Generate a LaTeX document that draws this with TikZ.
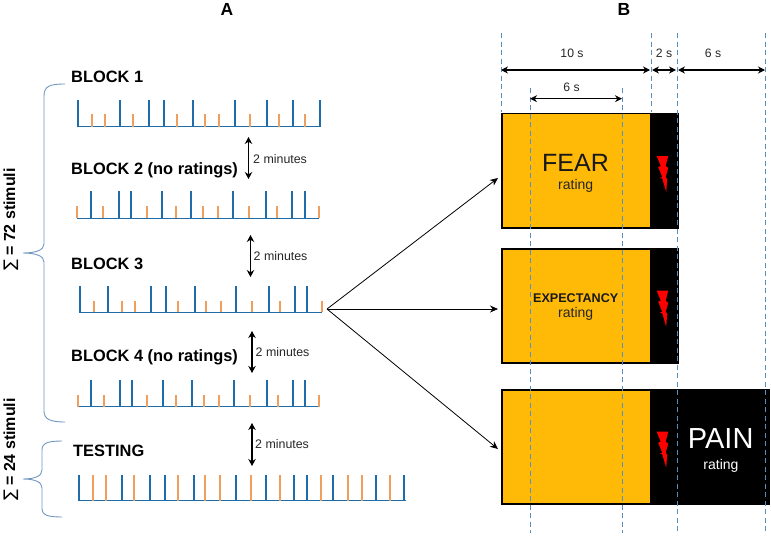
\documentclass[tikz,border=0pt]{standalone}
\usepackage{fontspec}
\setmainfont{Liberation Sans}
\newfontfamily\sumfont[BoldFont={DejaVu Sans}]{DejaVu Sans}
\usetikzlibrary{arrows.meta}

\definecolor{tickblue}{HTML}{1F6CAB}
\definecolor{tickorange}{HTML}{EE9F5E}
\definecolor{bracecol}{HTML}{6F97C0}
\definecolor{boxyellow}{HTML}{FFBA08}
\definecolor{guidecol}{HTML}{5B8DBE}

\tikzset{
  blocklabel/.style={anchor=west, inner sep=0pt, font=\bfseries\fontsize{16.4}{16.4}\selectfont},
  gaplabel/.style={anchor=west, inner sep=0pt, font=\fontsize{12.4}{12.4}\selectfont, text=black!85},
  timelabel/.style={inner sep=0pt, font=\fontsize{12.2}{12.2}\selectfont, text=black!85},
  panellabel/.style={inner sep=0pt, font=\bfseries\fontsize{17.5}{17.5}\selectfont},
  sumlabel/.style={inner sep=0pt, rotate=90, anchor=base, font=\bfseries\fontsize{16}{16}\selectfont},
  ratingbox/.style={draw=black, line width=1.5pt, fill=boxyellow, inner sep=0pt},
  shockbox/.style={draw=black, line width=1.5pt, fill=black, inner sep=0pt},
  rating/.style={inner sep=0pt, font=\fontsize{14}{14}\selectfont, text=black!85},
  bigword/.style={inner sep=0pt, font=\fontsize{25}{25}\selectfont, text=black!90},
  spanarrow/.style={{Stealth[length=7pt,width=7pt]}-{Stealth[length=7pt,width=7pt]}, line width=1.1pt},
  gaparrow/.style={{Stealth[length=7pt,width=7.5pt]}-{Stealth[length=7pt,width=7.5pt]}, line width=1.1pt},
  fanarrow/.style={-{Stealth[length=8pt,width=7pt]}, line width=.8pt},
  guide/.style={guidecol, dashed, dash pattern=on 5pt off 3.5pt, line width=.8pt},
  bracket/.style={bracecol, line width=.9pt},
  pics/bolt/.style={code={
    \fill[red] (0,0) -- (11.5,0) -- (9,10) -- (11.5,12) -- (9,21) -- (10.5,23) -- (9.5,36) -- (5.5,22.5)
      -- (3,22) -- (5.5,21) -- (1.5,11) -- (4,10) -- cycle;
  }},
}

% baseline, tall top, short top, blue positions, orange positions
\newcommand{\blockticks}[5]{
  \foreach \px in {#4} \draw[tickblue, line width=2pt] (\px,#1) -- (\px,#2);
  \foreach \px in {#5} \draw[tickorange, line width=2pt] (\px,#1) -- (\px,#3);
}
\newcommand{\sumsign}{{\sumfont ∑}}

\begin{document}
\begin{tikzpicture}[x=1pt, y=-1pt]
  \useasboundingbox (0,0) rectangle (771,536);

  % Headings
  \node[panellabel] (headA) at (227,9) {A};
  \node[panellabel] (headB) at (624,9) {B};

  % Left side: block labels
  \node[blocklabel] (block1) at (71,77)    {BLOCK 1};
  \node[blocklabel] (block2) at (71,170)   {BLOCK 2 (no ratings)};
  \node[blocklabel] (block3) at (71,263.5) {BLOCK 3};
  \node[blocklabel] (block4) at (71,357)   {BLOCK 4 (no ratings)};
  \node[blocklabel] (testing) at (73,451)  {TESTING};

  % Stimulus ticks
  \draw[tickblue, line width=1pt] (78,126.7) -- (321,126.7);
  \blockticks{126.7}{100}{114}
    {78.3,120.3,148.7,163.7,192.7,234.7,267.3,293,319.7}
    {92.3,105.3,133.3,177,204.7,219.3,250,278.7,305}
  \draw[tickblue, line width=1pt] (77,218) -- (319,218);
  \blockticks{218}{191.3}{206}
    {90.7,118.7,131.3,162.3,191.3,233,266,292,304.7}
    {77.3,103.3,146.7,175.7,203.3,218,249,277.3,318.7}
  \draw[tickblue, line width=1pt] (79,312) -- (322,312);
  \blockticks{312}{286}{300.7}
    {80,107.7,150.7,165.7,194.7,236.3,269,294.7,307.3}
    {94,122,135,178.3,206,220.7,251.7,280,321.7}
  \draw[tickblue, line width=1pt] (77,406.7) -- (320,406.7);
  \blockticks{406.7}{380}{395}
    {91.3,120,132.3,163,191.7,234.3,266.7,292.7,305}
    {78,104,147.3,176,204,218.7,249.7,278,319.3}
  \draw[tickblue, line width=1pt] (78,500.7) -- (406,500.7);
  \blockticks{500.7}{475}{475}
    {79,121.7,150,165,194,236,265.7,294,307.3,333.3,376,404.3}
    {93.3,106,134.3,177.7,205.3,220,250.7,280,321.3,347.7,361.7,390.3}

  % Gaps between blocks
  \node[gaplabel] (gap1) at (253,159) {2 minutes};
  \node[gaplabel] (gap2) at (253.5,256.5) {2 minutes};
  \node[gaplabel] (gap3) at (255.5,352) {2 minutes};
  \node[gaplabel] (gap4) at (255,444.5) {2 minutes};
  \coordinate (g1a) at (248.5,137);
  \coordinate (g1b) at (248.5,179);
  \coordinate (g2a) at (250.5,235);
  \coordinate (g2b) at (250.5,277);
  \coordinate (g3a) at (252,331);
  \coordinate (g3b) at (252,373);
  \coordinate (g4a) at (252,423);
  \coordinate (g4b) at (252,466);
  \draw[gaparrow] (g1a) -- (g1b);
  \draw[gaparrow] (g2a) -- (g2b);
  \draw[gaparrow] (g3a) -- (g3b);
  \draw[gaparrow] (g4a) -- (g4b);

  % Braces and totals
  \draw[bracket] (65,84) .. controls (50,84) and (44,86) .. (44,96) -- (44,244)
    .. controls (44,250) and (36,253) .. (23,253) .. controls (36,253) and (44,256) .. (44,262)
    -- (44,411) .. controls (44,419) and (50,422) .. (65,422);
  \draw[bracket] (62,441) .. controls (48,441) and (42,443) .. (42,450) -- (42,470)
    .. controls (42,476) and (35,479) .. (23,479) .. controls (35,479) and (42,482) .. (42,488)
    -- (42,509) .. controls (42,515) and (48,517) .. (62,517);
  \node[sumlabel] (sum72) at (15,219.5) {\sumsign{} = 72 stimuli};
  \node[sumlabel] (sum24) at (15,449.5) {\sumsign{} = 24 stimuli};

  % Right side: guides first, boxes on top
  \draw[guide] (501,33) -- (501,112);
  \draw[guide] (651,33) -- (651,112);

  \node[ratingbox, minimum width=149pt, minimum height=114.5pt, anchor=north west] (fear) at (501,112.7) {};
  \node[shockbox, minimum width=27pt, minimum height=114.5pt, anchor=north west] (shockF) at (650,112.7) {};
  \node[ratingbox, minimum width=149pt, minimum height=114pt, anchor=north west] (expect) at (501,248.3) {};
  \node[shockbox, minimum width=27pt, minimum height=114pt, anchor=north west] (shockE) at (650,248.3) {};
  \node[ratingbox, minimum width=149pt, minimum height=114pt, anchor=north west] (painL) at (501,389.3) {};
  \node[shockbox, minimum width=118pt, minimum height=114pt, anchor=north west] (painR) at (650,389.3) {};

  \draw[guide] (530,88) -- (530,533);
  \draw[guide] (622.5,88) -- (622.5,533);
  \draw[guide] (677,33) -- (677,533);
  \draw[guide] (765,33) -- (765,533);

  % Box contents
  \node[bigword] (fearword) at (575.5,162.5) {FEAR};
  \node[rating] (fearrate) at (575.7,186) {rating};
  \node[inner sep=0pt, font=\bfseries\fontsize{12.6}{12.6}\selectfont, text=black!90] (expword) at (575.7,297.7) {EXPECTANCY};
  \node[rating] (exprate) at (575.7,314) {rating};
  \node[bigword, font=\fontsize{29}{29}\selectfont, text=white] (painword) at (720.7,439) {PAIN};
  \node[rating, text=white] (painrate) at (721,466) {rating};
  \pic at (656.7,156) {bolt};
  \pic at (656.7,290.7) {bolt};
  \pic at (656.7,431.7) {bolt};

  % Timing
  \coordinate (t0) at (501,70);
  \coordinate (t1) at (650,70);
  \coordinate (t2) at (652,70);
  \coordinate (t3) at (676,70);
  \coordinate (t4) at (678,70);
  \coordinate (t5) at (765,70);
  \coordinate (t6) at (530,98.7);
  \coordinate (t7) at (622,98.7);
  \draw[spanarrow] (t0) -- (t1);
  \draw[spanarrow] (t2) -- (t3);
  \draw[spanarrow] (t4) -- (t5);
  \draw[spanarrow] (t6) -- (t7);
  \node[timelabel] (tenlab) at (572,53.5) {10 s};
  \node[timelabel] (twolab) at (664,53.5) {2 s};
  \node[timelabel] (sixlab) at (713,53.5) {6 s};
  \node[timelabel] (innerlab) at (571.5,87) {6 s};

  % Fan from block 3 to the boxes
  \coordinate (fan) at (327,309);
  \coordinate (fanF) at (498,178);
  \coordinate (fanE) at (498,309);
  \coordinate (fanP) at (498,449);
  \draw[fanarrow] (fan) -- (fanF);
  \draw[fanarrow] (fan) -- (fanE);
  \draw[fanarrow] (fan) -- (fanP);
\end{tikzpicture}
\end{document}
